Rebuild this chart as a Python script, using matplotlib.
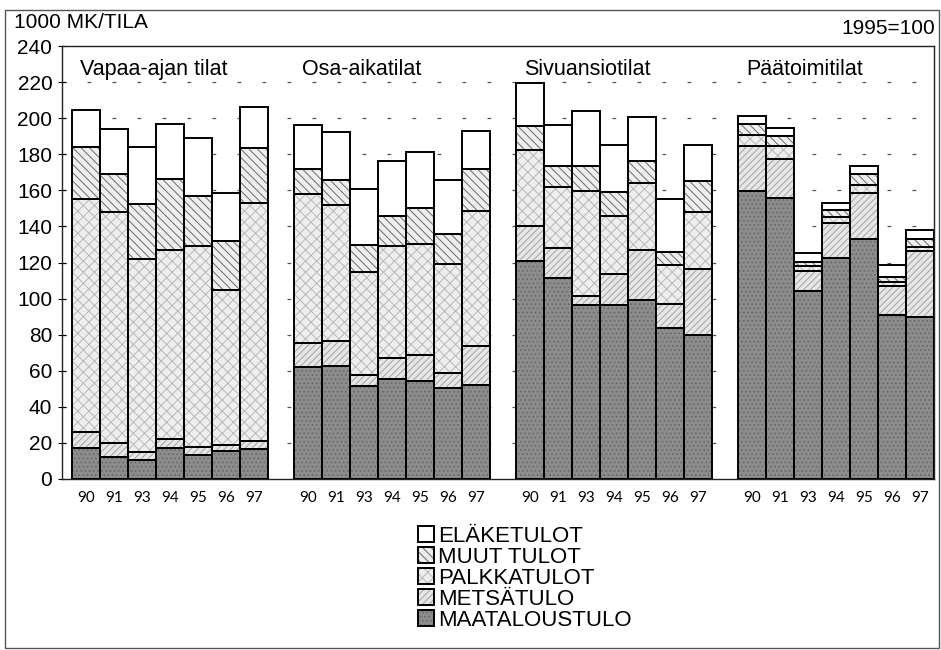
import matplotlib
matplotlib.use("Agg")
import matplotlib.pyplot as plt
from matplotlib.patches import Patch, Rectangle
from matplotlib.legend_handler import HandlerTuple
import numpy as np

plt.rcParams['font.family'] = ['Liberation Sans', 'DejaVu Sans']

groups = ["Vapaa-ajan tilat", "Osa-aikatilat", "Sivuansiotilat", "Päätoimitilat"]
years = ["90", "91", "93", "94", "95", "96", "97"]

# components per group (7 years each)
maatalous = [
    [17.0, 12.4, 10.5, 17.0, 13.3, 15.5, 16.7],
    [61.9, 62.4, 51.7, 55.4, 54.4, 50.2, 52.2],
    [121.0, 111.3, 96.5, 96.5, 99.0, 83.5, 80.0],
    [159.6, 155.5, 104.4, 122.6, 132.8, 91.0, 90.0],
]
metsa = [
    [9.0, 7.6, 4.3, 5.0, 4.7, 3.5, 4.3],
    [13.5, 14.3, 6.1, 11.5, 14.1, 8.8, 21.3],
    [19.5, 17.0, 4.8, 17.2, 28.0, 13.5, 36.5],
    [24.7, 22.1, 10.8, 19.1, 25.9, 15.8, 36.3],
]
palkka = [
    [129.0, 128.0, 107.2, 105.0, 111.0, 86.0, 132.0],
    [82.4, 75.3, 57.0, 62.1, 61.5, 60.0, 74.8],
    [41.9, 33.7, 58.3, 31.8, 37.0, 21.7, 31.5],
    [6.4, 7.0, 2.8, 3.5, 4.1, 2.2, 2.2],
]
muut = [
    [29.0, 21.0, 30.6, 39.5, 28.0, 27.0, 30.7],
    [13.9, 14.0, 14.8, 16.5, 20.4, 17.0, 23.7],
    [13.0, 11.5, 13.9, 13.5, 12.0, 7.3, 17.4],
    [6.2, 5.6, 2.4, 3.8, 6.5, 2.9, 4.8],
]
elake = [
    [20.5, 25.0, 31.4, 30.0, 32.0, 26.7, 22.3],
    [24.3, 26.6, 30.9, 30.8, 30.6, 29.5, 21.0],
    [24.0, 22.5, 30.5, 26.0, 24.5, 29.0, 19.6],
    [4.4, 4.4, 4.6, 4.0, 4.4, 6.6, 4.5],
]

series_labels = ["MAATALOUSTULO", "METSÄTULO", "PALKKATULOT", "MUUT TULOT", "ELÄKETULOT"]
series_data = [maatalous, metsa, palkka, muut, elake]
styles = [
    dict(face="#8c8c8c", hatch="....", hcol="#686868"),
    dict(face="#e6e6e6", hatch="/////", hcol="#a4a4a4"),
    dict(face="#eeeeee", hatch="xxx", hcol="#b8b8b8"),
    dict(face="#eeeeee", hatch="\\\\\\\\", hcol="#6a6a6a"),
    dict(face="#ffffff", hatch=None, hcol="#ffffff"),
]

W, H = 941, 650
fig = plt.figure(figsize=(W / 100, H / 100), dpi=100)
plt.rcParams['hatch.linewidth'] = 0.7

ax_l, ax_r, ax_t, ax_b = 62, 934, 46, 479
ax = fig.add_axes([ax_l / W, 1 - ax_b / H, (ax_r - ax_l) / W, (ax_b - ax_t) / H])

pitch = 7.92
xs_all = []
for g in range(4):
    x = g * pitch + np.arange(7)
    xs_all.append(x)
    bottom = np.zeros(7)
    for s, data in enumerate(series_data):
        vals = np.array(data[g])
        st = styles[s]
        ax.bar(x, vals, width=1.0, bottom=bottom, color=st["face"],
               edgecolor=st["hcol"], hatch=st["hatch"], linewidth=0, zorder=2)
        ax.bar(x, vals, width=1.0, bottom=bottom, fill=False,
               edgecolor="black", linewidth=1.4, zorder=3)
        bottom = bottom + vals
    ax.text(g * pitch - 0.5 + 0.3, 227, groups[g], fontsize=15.5, va="center",
            ha="left", zorder=4)

ax.set_xlim(-0.857, 30.26)
ax.set_ylim(0, 240)
ax.set_yticks(np.arange(0, 241, 20))
ax.tick_params(axis="y", direction="inout", length=6, labelsize=15, pad=4)
xt = np.concatenate(xs_all)
ax.set_xticks(xt)
ax.set_xticklabels(years * 4, fontsize=11, family=["Lato", "DejaVu Sans"])
ax.tick_params(axis="x", length=0, pad=9)

for yv in range(20, 240, 20):
    ax.axhline(yv, color="#555555", linewidth=0.9, linestyle=(0, (3, 17)), zorder=1)

for sp in ax.spines.values():
    sp.set_linewidth(1.0)
    sp.set_color("#222222")

fig.text(14 / W, 1 - 22 / H, "1000 MK/TILA", fontsize=15, va="center", ha="left")
fig.text(935 / W, 1 - 29 / H, "1995=100", fontsize=15, va="center", ha="right")

# figure frame
fig.add_artist(Rectangle((5 / W, 1 - 648 / H), (939 - 5) / W, (648 - 10) / H,
                         transform=fig.transFigure, fill=False,
                         edgecolor="#555555", linewidth=1.0))

handles = []
for s in range(4, -1, -1):
    st = styles[s]
    p1 = Patch(facecolor=st["face"], edgecolor=st["hcol"], hatch=st["hatch"], linewidth=0)
    p2 = Patch(fill=False, edgecolor="black", linewidth=1.4)
    handles.append((p1, p2))
labels = [series_labels[s] for s in range(4, -1, -1)]
fig.legend(handles, labels, handler_map={tuple: HandlerTuple(ndivide=1, pad=0)},
           loc="upper left", bbox_to_anchor=(418 / W, 1 - 526 / H),
           frameon=False, fontsize=16, handlelength=0.7, handleheight=0.7,
           handletextpad=0.2, labelspacing=0.0, borderpad=0, borderaxespad=0)

fig.savefig("out.png", dpi=100)
